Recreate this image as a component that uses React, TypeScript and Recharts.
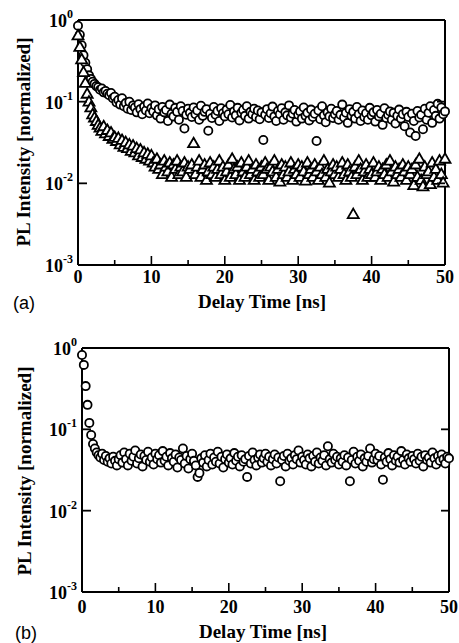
import React from 'react';
import { ScatterChart, Scatter, XAxis, YAxis } from 'recharts';

// delay time grid [ns]
const delayTimes = [
  0, 0.25, 0.5, 0.75, 1, 1.25, 1.5, 1.75, 2, 2.25, 2.5, 2.75, 3, 3.25, 3.5, 3.75, 4, 4.25, 4.5, 4.75, 5,
  5.25, 5.5, 5.75, 6, 6.25, 6.5, 6.75, 7, 7.25, 7.5, 7.75, 8, 8.25, 8.5, 8.75, 9, 9.25, 9.5, 9.75, 10,
  10.25, 10.5, 10.75, 11, 11.25, 11.5, 11.75, 12, 12.25, 12.5, 12.75, 13, 13.25, 13.5, 13.75, 14, 14.25, 14.5, 14.75, 15,
  15.25, 15.5, 15.75, 16, 16.25, 16.5, 16.75, 17, 17.25, 17.5, 17.75, 18, 18.25, 18.5, 18.75, 19, 19.25, 19.5, 19.75, 20,
  20.25, 20.5, 20.75, 21, 21.25, 21.5, 21.75, 22, 22.25, 22.5, 22.75, 23, 23.25, 23.5, 23.75, 24, 24.25, 24.5, 24.75, 25,
  25.25, 25.5, 25.75, 26, 26.25, 26.5, 26.75, 27, 27.25, 27.5, 27.75, 28, 28.25, 28.5, 28.75, 29, 29.25, 29.5, 29.75, 30,
  30.25, 30.5, 30.75, 31, 31.25, 31.5, 31.75, 32, 32.25, 32.5, 32.75, 33, 33.25, 33.5, 33.75, 34, 34.25, 34.5, 34.75, 35,
  35.25, 35.5, 35.75, 36, 36.25, 36.5, 36.75, 37, 37.25, 37.5, 37.75, 38, 38.25, 38.5, 38.75, 39, 39.25, 39.5, 39.75, 40,
  40.25, 40.5, 40.75, 41, 41.25, 41.5, 41.75, 42, 42.25, 42.5, 42.75, 43, 43.25, 43.5, 43.75, 44, 44.25, 44.5, 44.75, 45,
  45.25, 45.5, 45.75, 46, 46.25, 46.5, 46.75, 47, 47.25, 47.5, 47.75, 48, 48.25, 48.5, 48.75, 49, 49.25, 49.5, 49.75, 50,
];

// (a) circles
const circlesA = [
  0.85, 0.66, 0.49, 0.37, 0.3, 0.25, 0.21, 0.19, 0.175, 0.165, 0.155, 0.15, 0.14, 0.145, 0.13, 0.135, 0.125, 0.12, 0.128, 0.11, 0.115,
  0.098, 0.105, 0.092, 0.11, 0.088, 0.096, 0.082, 0.1, 0.079, 0.09, 0.085, 0.074, 0.093, 0.081, 0.07, 0.087, 0.078, 0.095, 0.072, 0.083,
  0.076, 0.09, 0.068, 0.081, 0.062, 0.086, 0.074, 0.079, 0.058, 0.092, 0.071, 0.066, 0.084, 0.075, 0.06, 0.088, 0.077, 0.047, 0.069, 0.082,
  0.073, 0.065, 0.085, 0.07, 0.078, 0.06, 0.089, 0.067, 0.075, 0.081, 0.044, 0.071, 0.063, 0.086, 0.069, 0.077, 0.058, 0.083, 0.072, 0.066,
  0.08, 0.07, 0.091, 0.064, 0.076, 0.068, 0.084, 0.059, 0.073, 0.079, 0.067, 0.088, 0.062, 0.075, 0.07, 0.082, 0.065, 0.078, 0.061, 0.074,
  0.034, 0.069, 0.081, 0.063, 0.072, 0.087, 0.066, 0.058, 0.077, 0.07, 0.083, 0.06, 0.074, 0.068, 0.09, 0.064, 0.071, 0.079, 0.057, 0.069,
  0.076, 0.062, 0.085, 0.067, 0.073, 0.059, 0.08, 0.065, 0.071, 0.033, 0.078, 0.061, 0.088, 0.068, 0.056, 0.074, 0.066, 0.082, 0.063, 0.07,
  0.077, 0.06, 0.069, 0.092, 0.064, 0.073, 0.055, 0.081, 0.067, 0.075, 0.062, 0.086, 0.07, 0.058, 0.078, 0.065, 0.072, 0.06, 0.084, 0.068,
  0.074, 0.057, 0.079, 0.066, 0.071, 0.052, 0.083, 0.063, 0.069, 0.076, 0.06, 0.073, 0.054, 0.067, 0.08, 0.062, 0.07, 0.05, 0.075, 0.065,
  0.042, 0.071, 0.058, 0.038, 0.077, 0.064, 0.069, 0.046, 0.082, 0.06, 0.073, 0.088, 0.055, 0.079, 0.067, 0.094, 0.062, 0.085, 0.07, 0.076,
];

// (a) triangles
const trianglesA = [
  0.65, 0.47, 0.33, 0.23, 0.17, 0.125, 0.1, 0.085, 0.07, 0.064, 0.058, 0.052, 0.048, 0.044, 0.05, 0.041, 0.045, 0.038, 0.042, 0.035, 0.037,
  0.033, 0.036, 0.03, 0.034, 0.028, 0.032, 0.027, 0.03, 0.025, 0.029, 0.024, 0.027, 0.022, 0.026, 0.021, 0.024, 0.02, 0.023, 0.019, 0.022,
  0.018, 0.016, 0.02, 0.015, 0.017, 0.013, 0.019, 0.016, 0.014, 0.018, 0.012, 0.017, 0.015, 0.019, 0.013, 0.016, 0.014, 0.018, 0.012, 0.016,
  0.015, 0.017, 0.031, 0.013, 0.016, 0.019, 0.012, 0.015, 0.017, 0.011, 0.014, 0.018, 0.013, 0.016, 0.012, 0.015, 0.019, 0.013, 0.016, 0.011,
  0.014, 0.017, 0.012, 0.02, 0.015, 0.013, 0.016, 0.011, 0.018, 0.014, 0.012, 0.016, 0.019, 0.013, 0.015, 0.011, 0.017, 0.014, 0.012, 0.016,
  0.013, 0.018, 0.015, 0.011, 0.016, 0.014, 0.019, 0.012, 0.015, 0.0105, 0.017, 0.013, 0.016, 0.012, 0.014, 0.018, 0.011, 0.015, 0.013, 0.017,
  0.012, 0.016, 0.014, 0.0108, 0.018, 0.013, 0.015, 0.012, 0.017, 0.014, 0.011, 0.016, 0.013, 0.019, 0.012, 0.015, 0.0102, 0.014, 0.017, 0.013,
  0.016, 0.012, 0.015, 0.018, 0.013, 0.011, 0.017, 0.014, 0.012, 0.0042, 0.016, 0.013, 0.019, 0.015, 0.011, 0.014, 0.017, 0.012, 0.015, 0.013,
  0.018, 0.012, 0.014, 0.016, 0.011, 0.015, 0.013, 0.017, 0.012, 0.019, 0.014, 0.0105, 0.016, 0.013, 0.015, 0.012, 0.017, 0.014, 0.011, 0.016,
  0.013, 0.015, 0.0095, 0.017, 0.012, 0.02, 0.011, 0.0092, 0.016, 0.013, 0.014, 0.0098, 0.018, 0.012, 0.015, 0.011, 0.019, 0.013, 0.0102, 0.02,
];

// (b) circles
const circlesB = [
  0.82, 0.62, 0.34, 0.2, 0.12, 0.085, 0.066, 0.058, 0.052, 0.048, 0.045, 0.05, 0.042, 0.047, 0.04, 0.044, 0.038, 0.046, 0.041, 0.036, 0.043,
  0.048, 0.039, 0.052, 0.043, 0.036, 0.05, 0.041, 0.046, 0.055, 0.038, 0.044, 0.049, 0.035, 0.047, 0.042, 0.053, 0.04, 0.045, 0.037, 0.05,
  0.043, 0.048, 0.039, 0.054, 0.041, 0.046, 0.036, 0.051, 0.044, 0.04, 0.049, 0.034, 0.045, 0.042, 0.058, 0.038, 0.047, 0.033, 0.043, 0.05,
  0.041, 0.036, 0.026, 0.029, 0.044, 0.039, 0.048, 0.035, 0.042, 0.05, 0.037, 0.045, 0.04, 0.053, 0.038, 0.046, 0.034, 0.043, 0.049, 0.039,
  0.044, 0.037, 0.051, 0.041, 0.046, 0.035, 0.048, 0.04, 0.043, 0.026, 0.047, 0.038, 0.052, 0.042, 0.036, 0.045, 0.049, 0.039, 0.044, 0.05,
  0.04, 0.046, 0.036, 0.043, 0.049, 0.038, 0.045, 0.023, 0.042, 0.047, 0.035, 0.05, 0.041, 0.044, 0.037, 0.048, 0.043, 0.055, 0.039, 0.046,
  0.042, 0.037, 0.049, 0.044, 0.035, 0.047, 0.04, 0.052, 0.038, 0.045, 0.041, 0.048, 0.036, 0.062, 0.043, 0.039, 0.05, 0.042, 0.046, 0.037,
  0.044, 0.04, 0.048, 0.036, 0.045, 0.023, 0.042, 0.053, 0.038, 0.046, 0.041, 0.049, 0.035, 0.044, 0.04, 0.047, 0.058, 0.039, 0.043, 0.05,
  0.042, 0.047, 0.037, 0.024, 0.045, 0.04, 0.051, 0.043, 0.036, 0.048, 0.041, 0.046, 0.039, 0.054, 0.042, 0.037, 0.049, 0.044, 0.04, 0.047,
  0.043, 0.038, 0.05, 0.041, 0.046, 0.035, 0.048, 0.042, 0.045, 0.039, 0.052, 0.044, 0.037, 0.047, 0.041, 0.049, 0.043, 0.038, 0.046, 0.044,
];

const xTicks = [0, 5, 10, 15, 20, 25, 30, 35, 40, 45, 50];
const yTicks = [0.001, 0.01, 0.1, 1];

const serif = '"Liberation Serif", "Times New Roman", serif';
const sans = '"Liberation Sans", Arial, sans-serif';

const toPoints = (vals: number[]) => vals.map((v, i) => ({ t: delayTimes[i], v }));

const CircleMark = (p: any) => (
  <circle cx={p.cx} cy={p.cy} r={4.1} fill="#fff" stroke="#000" strokeWidth={1.8} />
);

const TriangleMark = (p: any) => (
  <path
    d={`M${p.cx},${p.cy - 5.5}L${p.cx + 5.5},${p.cy + 4}L${p.cx - 5.5},${p.cy + 4}Z`}
    fill="#fff"
    stroke="#000"
    strokeWidth={1.8}
  />
);

const bottomTick = (gap: number) => (p: any) => {
  const v = p.payload.value;
  const major = v % 10 === 0;
  return (
    <g>
      <line x1={p.x} y1={p.y} x2={p.x} y2={p.y - (major ? 9 : 5)} stroke="#000" strokeWidth={1.6} />
      {major && (
        <text x={p.x} y={p.y + gap} textAnchor="middle" fontFamily={serif} fontWeight="bold" fontSize={18} fill="#000">
          {v}
        </text>
      )}
    </g>
  );
};

const topTick = (p: any) => {
  const major = p.payload.value % 10 === 0;
  return <line x1={p.x} y1={p.y} x2={p.x} y2={p.y + (major ? 9 : 5)} stroke="#000" strokeWidth={1.6} />;
};

const leftTick = (p: any) => {
  const exp = Math.round(Math.log10(p.payload.value));
  return (
    <g>
      <line x1={p.x} y1={p.y} x2={p.x + 9} y2={p.y} stroke="#000" strokeWidth={1.8} />
      <text x={p.x - 5} y={p.y + 7} textAnchor="end" fontFamily={serif} fontWeight="bold" fontSize={18} fill="#000">
        10
        <tspan fontSize={12} dy={-9}>
          {exp}
        </tspan>
      </text>
    </g>
  );
};

const rightTick = (p: any) => (
  <line x1={p.x} y1={p.y} x2={p.x - 8} y2={p.y} stroke="#000" strokeWidth={1.8} />
);

type PanelProps = {
  height: number;
  marginTop: number;
  marginRight: number;
  xAxisHeight: number;
  yAxisWidth: number;
  tickGap: number;
  tag: string;
  yLabelPos: [number, number];
  xLabelPos: [number, number];
  tagPos: [number, number];
  children: React.ReactNode;
};

const axisLine = { stroke: '#000', strokeWidth: 2 };

function Panel(props: PanelProps) {
  return (
    <div style={{ position: 'relative', width: 459, height: props.height }}>
      <ScatterChart
        width={459}
        height={props.height}
        margin={{ top: props.marginTop, right: props.marginRight, bottom: 0, left: 0 }}
      >
        <XAxis
          type="number"
          dataKey="t"
          domain={[0, 50]}
          ticks={xTicks}
          interval={0}
          tickLine={false}
          tickSize={0}
          tickMargin={0}
          height={props.xAxisHeight}
          axisLine={axisLine}
          tick={bottomTick(props.tickGap)}
        />
        <XAxis
          xAxisId="top"
          orientation="top"
          type="number"
          dataKey="t"
          domain={[0, 50]}
          ticks={xTicks}
          interval={0}
          tickLine={false}
          tickSize={0}
          tickMargin={0}
          height={10}
          axisLine={axisLine}
          tick={topTick}
        />
        <YAxis
          type="number"
          dataKey="v"
          scale="log"
          domain={[0.001, 1]}
          allowDataOverflow
          ticks={yTicks}
          interval={0}
          tickLine={false}
          tickSize={0}
          tickMargin={0}
          width={props.yAxisWidth}
          axisLine={axisLine}
          tick={leftTick}
        />
        <YAxis
          yAxisId="right"
          orientation="right"
          type="number"
          dataKey="v"
          scale="log"
          domain={[0.001, 1]}
          allowDataOverflow
          ticks={yTicks}
          interval={0}
          tickLine={false}
          tickSize={0}
          tickMargin={0}
          width={10}
          axisLine={axisLine}
          tick={rightTick}
        />
        {props.children}
      </ScatterChart>
      <svg
        width={459}
        height={props.height}
        style={{ position: 'absolute', left: 0, top: 0, pointerEvents: 'none' }}
      >
        <text
          transform={`translate(${props.yLabelPos[0]},${props.yLabelPos[1]}) rotate(-90)`}
          textAnchor="middle"
          fontFamily={serif}
          fontWeight="bold"
          fontSize={19}
          fill="#000"
        >
          PL Intensity [normalized]
        </text>
        <text
          x={props.xLabelPos[0]}
          y={props.xLabelPos[1]}
          textAnchor="middle"
          fontFamily={serif}
          fontWeight="bold"
          fontSize={19}
          fill="#000"
        >
          Delay Time [ns]
        </text>
        <text x={props.tagPos[0]} y={props.tagPos[1]} fontFamily={sans} fontSize={18} fill="#000">
          {props.tag}
        </text>
      </svg>
    </div>
  );
}

export default function App() {
  return (
    <div style={{ position: 'absolute', left: 0, top: 0, width: 459, height: 643, background: '#fff' }}>
      <Panel
        height={321}
        marginTop={10}
        marginRight={4}
        xAxisHeight={56}
        yAxisWidth={78}
        tickGap={18}
        tag="(a)"
        yLabelPos={[30, 142]}
        xLabelPos={[262, 308]}
        tagPos={[13, 309]}
      >
        <Scatter data={toPoints(circlesA)} shape={CircleMark} isAnimationActive={false} />
        <Scatter data={toPoints(trianglesA)} shape={TriangleMark} isAnimationActive={false} />
      </Panel>
      <Panel
        height={322}
        marginTop={17}
        marginRight={0}
        xAxisHeight={51}
        yAxisWidth={82}
        tickGap={21}
        tag="(b)"
        yLabelPos={[31, 150]}
        xLabelPos={[263, 317]}
        tagPos={[15, 318]}
      >
        <Scatter data={toPoints(circlesB)} shape={CircleMark} isAnimationActive={false} />
      </Panel>
    </div>
  );
}
